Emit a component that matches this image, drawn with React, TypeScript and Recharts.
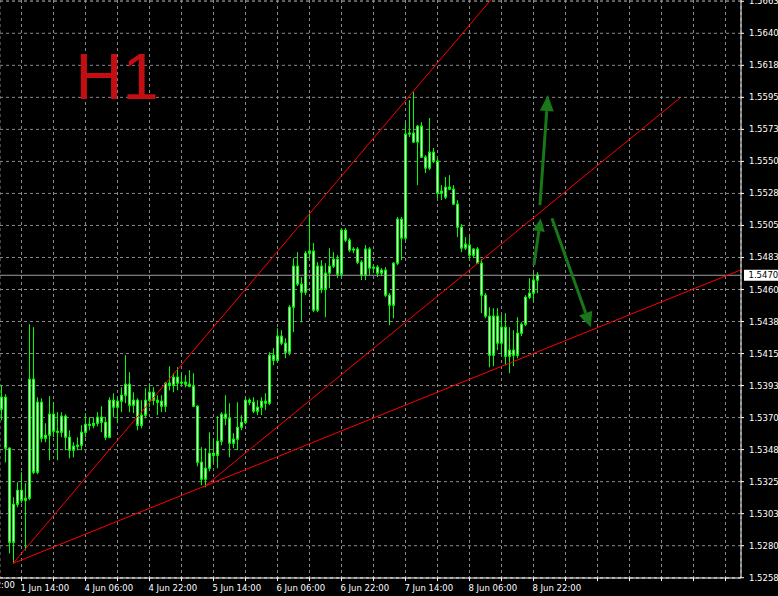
import { ComposedChart, Bar, XAxis, YAxis, CartesianGrid, ReferenceLine } from 'recharts';

// H1 candles (bar index 0 = first visible bar)
const OPEN = [
  1.53764, 1.53848, 1.5349, 1.52829, 1.53096, 1.53194, 1.53124, 1.53138, 1.53975, 1.53321,
  1.53813, 1.5356, 1.53581, 1.53729, 1.53609, 1.53602, 1.53715, 1.53567, 1.53476, 1.53504,
  1.53511, 1.53602, 1.53658, 1.53651, 1.53665, 1.53708, 1.53672, 1.53567, 1.53827, 1.53778,
  1.5382, 1.53862, 1.5394, 1.53792, 1.53827, 1.53651, 1.53722, 1.53827, 1.53883, 1.53827,
  1.5382, 1.53785, 1.53947, 1.53932, 1.53989, 1.53947, 1.53954, 1.5394, 1.53925, 1.53785,
  1.53391, 1.53272, 1.53349, 1.53454, 1.5344, 1.53539, 1.53729, 1.537, 1.53525, 1.53553,
  1.53637, 1.53672, 1.53827, 1.53813, 1.5375, 1.53778, 1.5382, 1.53806, 1.54143, 1.54108,
  1.54277, 1.54228, 1.54164, 1.54481, 1.54769, 1.54643, 1.54586, 1.5486, 1.54875, 1.5446,
  1.54769, 1.54607, 1.5472, 1.54769, 1.54818, 1.54713, 1.55022, 1.54952, 1.54882, 1.54889,
  1.54797, 1.54706, 1.54889, 1.54755, 1.54762, 1.5472, 1.54741, 1.54565, 1.54495, 1.5479,
  1.55099, 1.54966, 1.55697, 1.55704, 1.55641, 1.55753, 1.55535, 1.55458, 1.5557, 1.55507,
  1.55282, 1.55254, 1.55324, 1.5531, 1.55205, 1.55043, 1.54896, 1.54917, 1.54846, 1.54889,
  1.5479, 1.54565, 1.54418, 1.54143, 1.54418, 1.54228, 1.5434, 1.54136, 1.54179, 1.54143,
  1.54298, 1.54361, 1.54551, 1.54579, 1.54671,
];
const HIGH = [
  1.53932, 1.53869, 1.53497, 1.53145, 1.53251, 1.53321, 1.53244, 1.54361, 1.5434, 1.53848,
  1.53841, 1.53665, 1.53855, 1.53813, 1.53743, 1.53743, 1.53729, 1.53616, 1.53532, 1.53567,
  1.53651, 1.53736, 1.53708, 1.53708, 1.53743, 1.53785, 1.53708, 1.53848, 1.53876, 1.53848,
  1.53918, 1.54143, 1.54024, 1.53883, 1.53841, 1.53827, 1.53911, 1.53947, 1.53918, 1.53862,
  1.53862, 1.53954, 1.54066, 1.54017, 1.54059, 1.54017, 1.54003, 1.54038, 1.54017, 1.53792,
  1.53497, 1.5349, 1.53602, 1.5356, 1.53715, 1.53743, 1.53862, 1.53806, 1.53595, 1.53813,
  1.53722, 1.53848, 1.53841, 1.53848, 1.53827, 1.53848, 1.53876, 1.54164, 1.54193, 1.54333,
  1.54319, 1.54263, 1.54495, 1.54825, 1.54867, 1.54692, 1.54875, 1.55142, 1.54931, 1.54797,
  1.54811, 1.5479, 1.54896, 1.54867, 1.54846, 1.55036, 1.55036, 1.54966, 1.54903, 1.54903,
  1.54811, 1.54917, 1.54903, 1.54776, 1.54776, 1.54755, 1.54762, 1.54579, 1.54797, 1.55114,
  1.55114, 1.55774, 1.55936, 1.55992, 1.5576, 1.55781, 1.55549, 1.5581, 1.55599, 1.55528,
  1.55338, 1.55395, 1.55409, 1.55338, 1.55233, 1.55064, 1.54973, 1.54973, 1.54896, 1.54903,
  1.54818, 1.54579, 1.54481, 1.54474, 1.54474, 1.54425, 1.54439, 1.5434, 1.54319, 1.5441,
  1.54375, 1.54565, 1.54685, 1.5472, 1.54727,
];
const LOW = [
  1.53686, 1.53391, 1.52751, 1.52681, 1.53075, 1.53103, 1.52772, 1.53124, 1.53307, 1.53307,
  1.53532, 1.53532, 1.53405, 1.53567, 1.53405, 1.53567, 1.53476, 1.53419, 1.53426, 1.53476,
  1.53476, 1.53567, 1.53616, 1.5363, 1.53644, 1.53602, 1.53546, 1.5356, 1.53708, 1.53665,
  1.53743, 1.53806, 1.53743, 1.53736, 1.53616, 1.5363, 1.537, 1.53778, 1.53792, 1.53722,
  1.53743, 1.53743, 1.53897, 1.53883, 1.53897, 1.53932, 1.53918, 1.53918, 1.53778, 1.53363,
  1.53229, 1.53215, 1.53328, 1.53391, 1.53349, 1.53511, 1.53651, 1.53426, 1.5349, 1.53476,
  1.53616, 1.53658, 1.53792, 1.53736, 1.53722, 1.53722, 1.53757, 1.53792, 1.54073, 1.54094,
  1.54214, 1.54122, 1.54143, 1.54305, 1.54629, 1.54375, 1.54565, 1.54825, 1.54446, 1.54446,
  1.54579, 1.5441, 1.54614, 1.54755, 1.54685, 1.54685, 1.54938, 1.54867, 1.5486, 1.54783,
  1.54671, 1.54671, 1.54706, 1.5472, 1.54692, 1.54699, 1.54551, 1.54354, 1.54403, 1.54776,
  1.54811, 1.54952, 1.55676, 1.55634, 1.55338, 1.55528, 1.55423, 1.55444, 1.55493, 1.55247,
  1.55233, 1.5524, 1.55303, 1.55198, 1.54973, 1.54867, 1.54882, 1.54811, 1.54825, 1.54783,
  1.54439, 1.54403, 1.54059, 1.54066, 1.54179, 1.54143, 1.54073, 1.54017, 1.54066, 1.54122,
  1.54277, 1.54347, 1.54537, 1.54516, 1.54579,
];
const CLOSE = [
  1.53848, 1.5349, 1.52829, 1.53096, 1.53194, 1.53124, 1.53138, 1.53975, 1.53321, 1.53813,
  1.5356, 1.53581, 1.53729, 1.53609, 1.53602, 1.53715, 1.53567, 1.53476, 1.53504, 1.53511,
  1.53602, 1.53658, 1.53651, 1.53665, 1.53708, 1.53672, 1.53567, 1.53827, 1.53778, 1.5382,
  1.53862, 1.5394, 1.53792, 1.53827, 1.53651, 1.53722, 1.53827, 1.53883, 1.53827, 1.53813,
  1.53785, 1.53947, 1.53932, 1.53989, 1.53947, 1.53954, 1.5394, 1.53925, 1.53785, 1.53391,
  1.53272, 1.53349, 1.53454, 1.5344, 1.53539, 1.53729, 1.537, 1.53525, 1.53553, 1.53637,
  1.53672, 1.53827, 1.53813, 1.5375, 1.53778, 1.5382, 1.53806, 1.54143, 1.54108, 1.54277,
  1.54228, 1.54164, 1.54481, 1.54769, 1.54643, 1.54586, 1.5486, 1.54875, 1.5446, 1.54769,
  1.54607, 1.5472, 1.54769, 1.54818, 1.54713, 1.55022, 1.54952, 1.54882, 1.54889, 1.54797,
  1.54706, 1.54889, 1.54755, 1.54762, 1.5472, 1.54741, 1.54565, 1.54495, 1.5479, 1.55099,
  1.54966, 1.55697, 1.55704, 1.55641, 1.55753, 1.55535, 1.55458, 1.5557, 1.55507, 1.55282,
  1.55296, 1.55324, 1.5531, 1.55205, 1.55043, 1.54896, 1.54924, 1.54846, 1.54889, 1.5479,
  1.54565, 1.54418, 1.54143, 1.54418, 1.54228, 1.5434, 1.54136, 1.54179, 1.54143, 1.54298,
  1.54361, 1.54551, 1.54579, 1.54671, 1.54706,
];

// price scale labels (right side)
const PRICE_TICKS = [
  1.5258, 1.52805, 1.5303, 1.53255, 1.5348, 1.53705, 1.5393, 1.54155, 1.5438, 1.54605,
  1.5483, 1.55055, 1.5528, 1.55505, 1.5573, 1.55955, 1.5618, 1.56405, 1.5663,
];
// time scale: grid every 8 bars, label every 16 bars
const GRID_BARS = [-3, 5, 13, 21, 29, 37, 45, 53, 61, 69, 77, 85, 93, 101, 109, 117, 125, 133, 141, 149, 157, 165, 173, 181];
const LABEL_BARS = [-11, 5, 21, 37, 53, 69, 85, 101, 117, 133];
const TIME_LABELS = ['29 May 22:00', '1 Jun 14:00', '4 Jun 06:00', '4 Jun 22:00', '5 Jun 14:00', '6 Jun 06:00', '6 Jun 22:00', '7 Jun 14:00', '8 Jun 06:00', '8 Jun 22:00'];

const BID = 1.54705;

// trendlines [bar, price] -> [bar, price]
const TRENDLINES = [
  [[2.9, 1.52681], [130, 1.56894]],
  [[2.9, 1.52681], [185, 1.54745]],
  [[50.5, 1.53215], [169.6, 1.5595]],
];
// arrows: from -> tip, head length, head half width
const ARROWS = [
  { from: [134.6, 1.55198], to: [136.6, 1.55971], head: 16, half: 7 },
  { from: [133.1, 1.54776], to: [134.8, 1.55106], head: 13, half: 6 },
  { from: [137.6, 1.55106], to: [147.3, 1.5434], head: 15, half: 7 },
];

const data = OPEN.map((o, i) => ({ k: i, open: o, high: HIGH[i], low: LOW[i], close: CLOSE[i] }));

const LIME = '#00ff00';
const FONT = 'DejaVu Sans';
const X_DOMAIN = [-0.375, 184.875];

function Candle(props: any) {
  const { x, y, width, height, payload } = props;
  const { open, close, high, low } = payload;
  const cx = Math.round(x + width / 2 - 0.5) + 0.5;
  const top = Math.min(y, y + height);
  const h = Math.abs(height);
  const toY = (v: number) => (high === low ? top : top + ((high - v) / (high - low)) * h);
  const yo = toY(open);
  const yc = toY(close);
  const bt = Math.min(yo, yc);
  const bb = Math.max(yo, yc);
  return (
    <g>
      <line x1={cx} x2={cx} y1={top} y2={top + h} stroke={LIME} strokeWidth={1} />
      <rect x={cx - 1} y={bt} width={2} height={Math.max(bb - bt, 0.01)} fill="#e6ffe6" stroke={LIME} strokeWidth={1} />
    </g>
  );
}

// first label sits left of the plot, so it is placed from the scale by hand
function TimeTick(props: any) {
  const { x, y, payload } = props;
  const idx = LABEL_BARS.indexOf(payload.value);
  if (idx < 0) return <g />;
  return (
    <text x={x - 1} y={y} dy="0.71em" textAnchor="start" fill="#fff" fontSize={8.5} fontFamily={FONT}>
      {TIME_LABELS[idx]}
    </text>
  );
}

const arrowShape = (head: number, half: number) => (p: any) => {
  const { x1, y1, x2, y2 } = p;
  const dx = x2 - x1;
  const dy = y2 - y1;
  const len = Math.hypot(dx, dy) || 1;
  const ux = dx / len;
  const uy = dy / len;
  const bx = x2 - ux * head;
  const by = y2 - uy * head;
  const pts = `${x2},${y2} ${bx - uy * half},${by + ux * half} ${bx + uy * half},${by - ux * half}`;
  return (
    <g>
      <line x1={x1} y1={y1} x2={bx} y2={by} stroke="#187818" strokeWidth={3} />
      <polygon points={pts} fill="#187818" />
    </g>
  );
};

const bidLabel = (props: any) => {
  const vb = props.viewBox;
  const x = vb.x + vb.width;
  const y = vb.y;
  return (
    <g>
      <rect x={x + 3} y={y - 5.5} width={40} height={11} fill="#fff" />
      <text x={x + 7.5} y={y} dominantBaseline="central" fill="#000" fontSize={8.5} fontFamily={FONT}>
        {BID.toFixed(5)}
      </text>
    </g>
  );
};

// the "29 May" label belongs to a bar left of the visible window
const firstLabelX = (LABEL_BARS[0] - X_DOMAIN[0]) * (741 / (X_DOMAIN[1] - X_DOMAIN[0]));

export default function App() {
  return (
    <div style={{ position: 'absolute', left: 0, top: 0, width: 778, height: 596, background: '#000', overflow: 'hidden' }}>
      <ComposedChart width={778} height={596} data={data} margin={{ top: 0, right: 0, bottom: 0, left: 0 }}>
        <CartesianGrid stroke="#8a8a8a" strokeDasharray="3 3" />
        <XAxis
          type="number"
          dataKey="k"
          domain={X_DOMAIN}
          allowDataOverflow
          ticks={GRID_BARS}
          interval={0}
          height={18}
          tickSize={3}
          tickMargin={4}
          axisLine={{ stroke: '#fff' }}
          tickLine={{ stroke: '#fff' }}
          tick={<TimeTick />}
        />
        <YAxis
          orientation="right"
          type="number"
          domain={[1.52578, 1.56639]}
          allowDataOverflow
          ticks={PRICE_TICKS}
          interval={0}
          width={37}
          tickSize={3}
          tickMargin={5}
          axisLine={{ stroke: '#fff' }}
          tickLine={{ stroke: '#fff' }}
          tick={{ fill: '#fff', fontSize: 8.5, fontFamily: FONT }}
          tickFormatter={(v: number) => v.toFixed(5)}
        />
        <ReferenceLine y={BID} stroke="#a0a0a0" strokeWidth={1} label={bidLabel} />
        <Bar dataKey={(d: any) => [d.low, d.high]} barSize={3} shape={<Candle />} isAnimationActive={false} />
        {TRENDLINES.map((s, i) => (
          <ReferenceLine
            key={'t' + i}
            segment={[{ x: s[0][0], y: s[0][1] }, { x: s[1][0], y: s[1][1] }]}
            stroke="#ff0000"
            strokeWidth={1}
            ifOverflow="hidden"
          />
        ))}
        {ARROWS.map((a, i) => (
          <ReferenceLine
            key={'a' + i}
            segment={[{ x: a.from[0], y: a.from[1] }, { x: a.to[0], y: a.to[1] }]}
            shape={arrowShape(a.head, a.half)}
            ifOverflow="visible"
          />
        ))}
      </ComposedChart>
      <svg width={778} height={596} style={{ position: 'absolute', left: 0, top: 0, pointerEvents: 'none' }}>
        <text x={firstLabelX - 1} y={582} dy="0.71em" fill="#fff" fontSize={8.5} fontFamily={FONT}>
          {TIME_LABELS[0]}
        </text>
        <text x={75.6} y={99} fill="#c40f12" fontSize={65} fontFamily="Liberation Sans">H1</text>
      </svg>
    </div>
  );
}
